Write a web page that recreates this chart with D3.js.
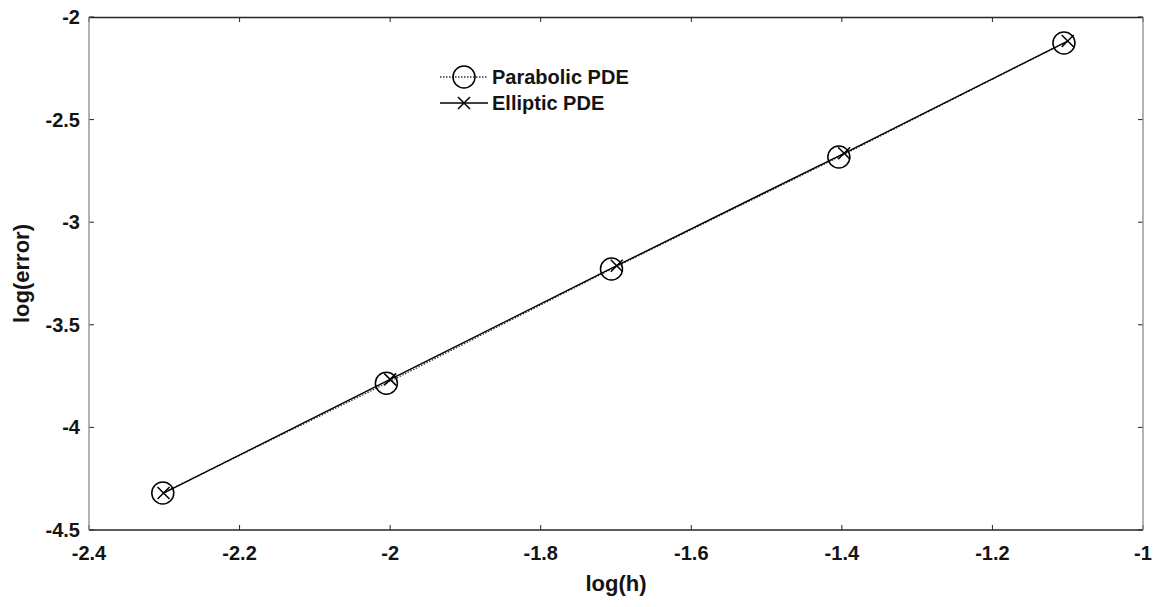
<!DOCTYPE html>
<html>
<head>
<meta charset="utf-8">
<script src="https://cdn.jsdelivr.net/npm/d3@7"></script>
<style>
body { margin: 0; background: #fff; }
svg text { font-family: "Liberation Sans", Arial, Helvetica, sans-serif; font-weight: bold; fill: #141414; }
</style>
</head>
<body>
<div id="chart"></div>
<script>
// data
var parabolicX = [-2.302, -2.005, -1.706, -1.404, -1.105];
var parabolicY = [-4.320, -3.785, -3.228, -2.682, -2.127];
var ellipticX = [-2.301, -2.000, -1.699, -1.397, -1.100];
var ellipticY = [-4.320, -3.766, -3.212, -2.664, -2.117];
var xTicks = [-2.4, -2.2, -2, -1.8, -1.6, -1.4, -1.2, -1];
var yTicks = [-4.5, -4, -3.5, -3, -2.5, -2];
var seriesNames = ["Parabolic PDE", "Elliptic PDE"];

(function () {
  'use strict'

  var W = 1163, H = 607;
  var margin = {top: 17, right: 20, bottom: 77, left: 89};
  var width = W - margin.left - margin.right,
      height = H - margin.top - margin.bottom;

  var x = d3.scaleLinear().domain([-2.4, -1]).range([0, width]);
  var y = d3.scaleLinear().domain([-4.5, -2]).range([height, 0]);

  var svg = d3.select("#chart").append("svg")
      .attr("width", W)
      .attr("height", H)
    .append("g")
      .attr("transform", "translate(" + margin.left + "," + margin.top + ")");

  var parabolic = parabolicX.map(function(d, i) { return {x: d, y: parabolicY[i]}; });
  var elliptic = ellipticX.map(function(d, i) { return {x: d, y: ellipticY[i]}; });

  var line = d3.line()
      .x(function(d) { return x(d.x); })
      .y(function(d) { return y(d.y); });

  // ticks (inside, on all four sides)
  var tl = 5;
  var tickG = svg.append("g").attr("stroke", "#262626").attr("stroke-width", 1);
  xTicks.forEach(function(t) {
    tickG.append("line").attr("x1", x(t)).attr("x2", x(t)).attr("y1", height).attr("y2", height - tl);
    tickG.append("line").attr("x1", x(t)).attr("x2", x(t)).attr("y1", 0).attr("y2", tl);
  });
  yTicks.forEach(function(t) {
    tickG.append("line").attr("x1", 0).attr("x2", tl).attr("y1", y(t)).attr("y2", y(t));
    tickG.append("line").attr("x1", width).attr("x2", width - tl).attr("y1", y(t)).attr("y2", y(t));
  });

  // box
  svg.append("line").attr("x1", 0).attr("x2", width).attr("y1", 0.5).attr("y2", 0.5)
    .attr("stroke", "#262626").attr("stroke-width", 1.3);
  svg.append("line").attr("x1", 0).attr("x2", width).attr("y1", height).attr("y2", height)
    .attr("stroke", "#262626").attr("stroke-width", 1.3);
  svg.append("line").attr("x1", 0).attr("x2", 0).attr("y1", 0).attr("y2", height)
    .attr("stroke", "#8a8a8a").attr("stroke-width", 1.3);
  svg.append("line").attr("x1", width).attr("x2", width).attr("y1", 0).attr("y2", height)
    .attr("stroke", "#8a8a8a").attr("stroke-width", 1.3);

  // tick labels
  svg.append("g").selectAll("text")
    .data(xTicks).enter().append("text")
    .attr("x", function(d) { return x(d); })
    .attr("y", height + 30)
    .attr("text-anchor", "middle")
    .style("font-size", "20px")
    .text(function(d) { return d; });

  svg.append("g").selectAll("text")
    .data(yTicks).enter().append("text")
    .attr("x", -9)
    .attr("y", function(d) { return y(d) + 7; })
    .attr("text-anchor", "end")
    .style("font-size", "20px")
    .text(function(d) { return d; });

  // axis labels
  svg.append("text")
    .attr("x", width / 2)
    .attr("y", height + 61)
    .attr("text-anchor", "middle")
    .style("font-size", "22px")
    .text("log(h)");

  svg.append("text")
    .attr("transform", "translate(" + (-60) + "," + (height / 2) + ") rotate(-90)")
    .attr("text-anchor", "middle")
    .style("font-size", "22px")
    .text("log(error)");

  // series lines
  svg.append("path").datum(parabolic)
    .attr("fill", "none").attr("stroke", "#333").attr("stroke-width", 1.3)
    .attr("stroke-dasharray", "1.5,1.5")
    .attr("d", line);

  svg.append("path").datum(elliptic)
    .attr("fill", "none").attr("stroke", "#000").attr("stroke-width", 1.4)
    .attr("d", line);

  var r = 11, cs = 6;
  function drawCircle(g, cx, cy) {
    g.append("circle").attr("cx", cx).attr("cy", cy).attr("r", r)
      .attr("fill", "none").attr("stroke", "#000").attr("stroke-width", 1.5);
  }
  function drawCross(g, cx, cy) {
    g.append("path")
      .attr("d", "M" + (cx - cs) + "," + (cy - cs) + "L" + (cx + cs) + "," + (cy + cs) +
                 "M" + (cx - cs) + "," + (cy + cs) + "L" + (cx + cs) + "," + (cy - cs))
      .attr("stroke", "#000").attr("stroke-width", 1.5);
  }

  var markG = svg.append("g");
  parabolic.forEach(function(d) { drawCircle(markG, x(d.x), y(d.y)); });
  elliptic.forEach(function(d) { drawCross(markG, x(d.x), y(d.y)); });

  // legend
  var lg = svg.append("g").attr("transform", "translate(" + (440 - margin.left) + "," + (77 - margin.top) + ")");
  lg.append("line").attr("x1", 0).attr("x2", 48).attr("y1", 0).attr("y2", 0)
    .attr("stroke", "#333").attr("stroke-width", 1.3).attr("stroke-dasharray", "1.5,1.5");
  drawCircle(lg, 24, 0);
  lg.append("text").attr("x", 52).attr("y", 7).style("font-size", "20px").text(seriesNames[0]);

  lg.append("line").attr("x1", 0).attr("x2", 48).attr("y1", 26).attr("y2", 26)
    .attr("stroke", "#000").attr("stroke-width", 1.4);
  drawCross(lg, 24, 26);
  lg.append("text").attr("x", 52).attr("y", 33).style("font-size", "20px").text(seriesNames[1]);

})()
</script>
</body>
</html>
